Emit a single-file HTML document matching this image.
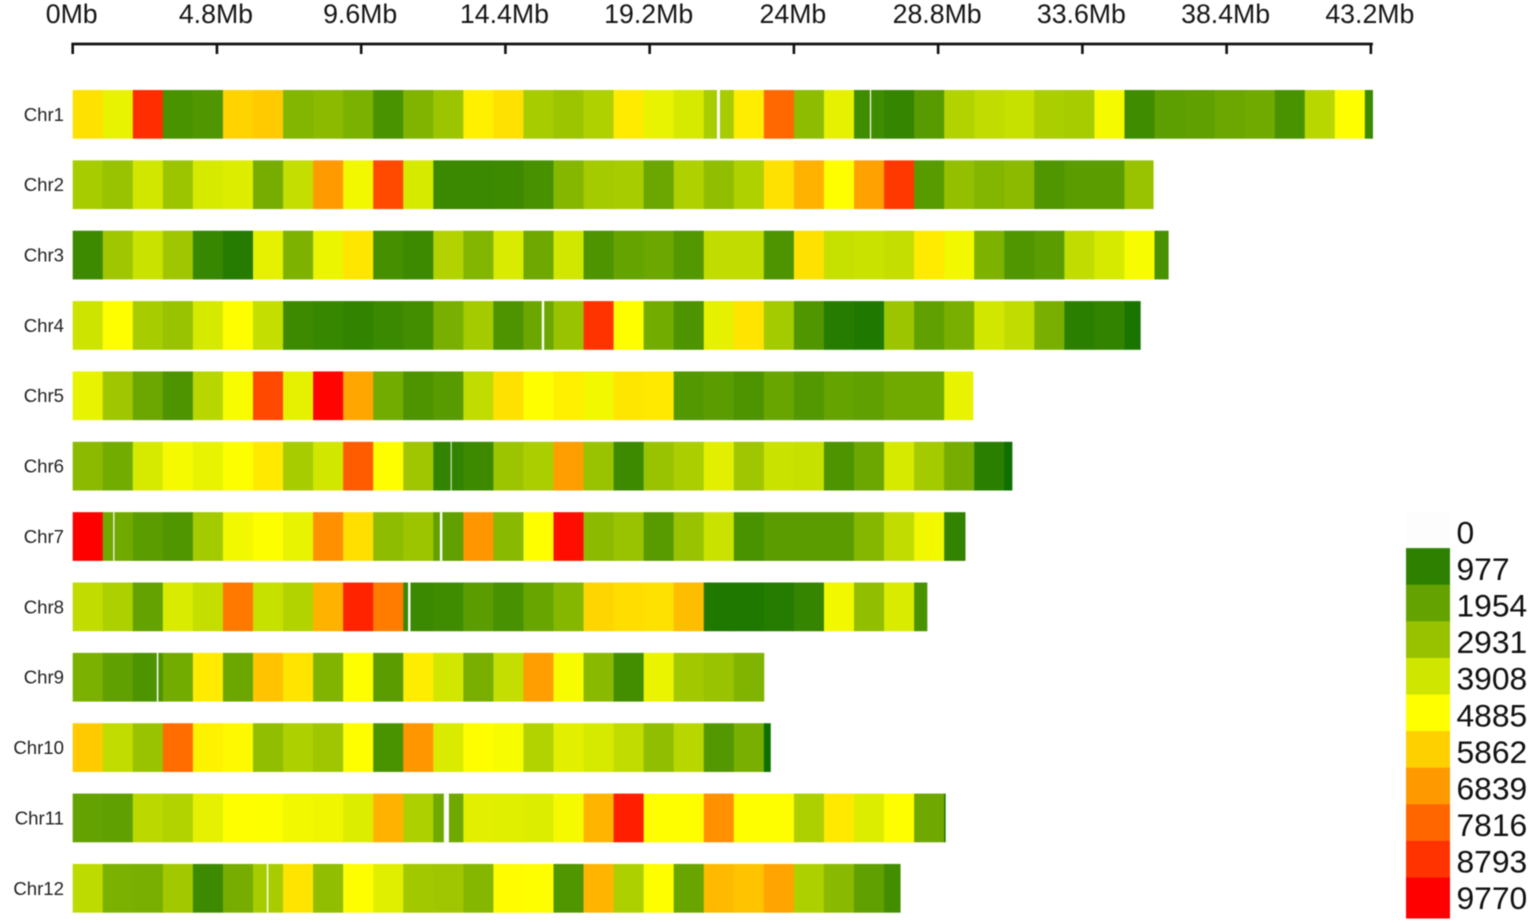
<!DOCTYPE html>
<html lang="en">
<head>
<meta charset="utf-8">
<title>Chromosome density heatmap</title>
<style>
html,body{margin:0;padding:0;background:#fff;width:1535px;height:923px;overflow:hidden}
svg{display:block;filter:blur(0.4px)}
text{font-family:"Liberation Sans",Arial,sans-serif}
</style>
</head>
<body>
<svg id="chart" width="1535" height="923" viewBox="0 0 1535 923" xmlns="http://www.w3.org/2000/svg">
<rect width="1535" height="923" fill="#fff"/>
<g id="axis"></g>
<g id="rows"></g>
<g id="legend"></g>
</svg>
<script>
const chromosomes = ["Chr1","Chr2","Chr3","Chr4","Chr5","Chr6","Chr7","Chr8","Chr9","Chr10","Chr11","Chr12"];
const lengthsMb = [43.27,35.97,36.47,35.54,29.97,31.27,29.71,28.44,23.01,23.23,29.05,27.55];
const axisTicksMb = [0,4.8,9.6,14.4,19.2,24,28.8,33.6,38.4,43.2];
const legendValues = [0,977,1954,2931,3908,4885,5862,6839,7816,8793,9770];

const chr1Values = [5500,4400,8900,1500,1600,5800,5950,2550,2700,2400,1500,2500,3000,5200,5500,3200,3000,3350,5300,4400,4050,3200,5250,7800,2750,4350,1300,1100,1750,3400,3650,3750,3250,3200,4700,1300,1850,1900,2100,2200,1500,3500,4900,1200];
const chr2Values = [3200,2950,3950,3000,4050,4200,2300,3700,6800,4600,8350,4050,1200,1200,1250,1450,2600,3150,3200,2100,3350,2800,3350,5500,6400,4900,6700,8700,1750,2850,2550,2700,1600,1800,1800,2950];
const chr3Values = [1250,3050,3800,3050,1150,900,4350,2450,4500,5400,1400,1250,3400,2550,4100,2150,3950,1550,2000,2100,1650,3650,3650,1550,5500,3750,3800,3700,5300,4600,2450,1600,1800,3650,4050,4750,1450];
const chr4Values = [3850,4900,3200,2950,4050,4900,3700,1250,1150,1050,1200,1350,2350,3150,1550,2100,2950,8800,4900,2250,1550,4350,5450,3150,1600,900,850,3000,1900,2350,3950,3650,2350,950,1050,800];
const chr5Values = [4400,3050,2100,1550,3500,4750,8400,4350,9700,6600,2250,1550,1750,3650,5500,4900,5200,4600,5400,5350,1650,1800,1550,2050,1650,2000,1900,2200,2200,4400];
const chr6Values = [2700,2250,4050,4700,4400,4850,5350,3200,3950,8000,4900,3050,1050,1250,3000,3250,6750,2950,1250,2950,3250,4300,3050,3800,3750,1550,2100,4050,3150,2300,950,700];
const chr7Values = [9770,2200,1800,1600,3150,4600,4850,4400,7000,5550,2750,3000,1900,6900,2650,4900,9500,2700,2950,1750,2950,3800,1500,1800,1800,1800,2600,3650,4600,1050];
const chr8Values = [3650,3300,1950,4100,3700,7450,3750,3400,6400,9100,7400,1200,1300,1800,1450,2050,2600,5750,5600,5500,6200,850,850,900,1100,4600,2800,4100,1500];
const chr9Values = [2400,1900,1550,2250,5300,2100,6100,5450,2500,4900,1800,5250,3950,2350,3700,6750,4750,2650,1350,4450,3100,2950,2500];
const chr10Values = [5950,3650,2950,7700,5150,5000,2800,3300,3050,4900,1500,6900,4100,4900,4750,3400,4300,4050,3650,2800,3500,1650,2350,700];
const chr11Values = [1950,1900,3550,3400,4350,4900,4850,4600,4550,4200,6400,3300,2150,4300,4250,4200,4700,6350,9200,4900,4900,7000,4900,4900,3300,5350,4200,4900,2150,800];
const chr12Values = [3600,2400,2350,3100,1250,2300,3200,5450,2800,4900,4250,3100,3050,2600,4950,4900,1600,6350,3300,4900,2050,6250,6100,6650,3300,2650,1900,1350];
const rowValues = [chr1Values,chr2Values,chr3Values,chr4Values,chr5Values,chr6Values,chr7Values,chr8Values,chr9Values,chr10Values,chr11Values,chr12Values];

/* zero-density gaps: chromosome index, start (Mb), span (Mb) */
const gapChromosome = [0,0,3,5,6,6,7,8,10,11];
const gapStartMb = [21.44,26.53,15.61,12.58,1.35,12.22,11.16,2.8,12.35,6.46];
const gapSpanMb = [0.1,0.04,0.08,0.03,0.04,0.08,0.08,0.05,0.17,0.05];

const colorDomain = [700,977,1954,2931,3908,4885,5862,6839,7816,8793,9770];
const colorRange = ["#0e6f00","#2e8100","#63a200","#98c200","#cfe600","#ffff00","#ffd000","#ff9900","#ff6600","#ff3300","#ff0000"];

const NS = "http://www.w3.org/2000/svg";
const xOrigin = 72.7, pxPerMb = 30.05;
const rowTop = 90, rowPitch = 70.36, rowHeight = 48.7;
const xScale = mb => xOrigin + mb * pxPerMb;
const yScale = i => rowTop + i * rowPitch;

function hexToRgb(h){return [parseInt(h.slice(1,3),16),parseInt(h.slice(3,5),16),parseInt(h.slice(5,7),16)];}
function densityColor(v){
  if(v<=0) return "#fdfdfd";
  if(v<=colorDomain[0]) return colorRange[0];
  for(let i=1;i<colorDomain.length;i++){
    if(v<=colorDomain[i]){
      const t=(v-colorDomain[i-1])/(colorDomain[i]-colorDomain[i-1]);
      const a=hexToRgb(colorRange[i-1]),b=hexToRgb(colorRange[i]);
      return "rgb("+a.map((c,k)=>Math.round(c+(b[k]-c)*t)).join(",")+")";
    }
  }
  return colorRange[colorRange.length-1];
}
function make(tag,attrs,parent,txt){
  const el=document.createElementNS(NS,tag);
  for(const k in attrs) el.setAttribute(k,attrs[k]);
  if(txt!==undefined) el.textContent=txt;
  parent.appendChild(el);
  return el;
}

/* axis */
const axisG=document.getElementById("axis");
const axisLine=make("line",{x1:xScale(axisTicksMb[0])-1.3,x2:xScale(axisTicksMb[axisTicksMb.length-1])+2,y1:44,y2:44,stroke:"#111","stroke-width":2.8},axisG);


axisTicksMb.forEach(mb=>{
  const tick=make("line",{x1:xScale(mb),x2:xScale(mb),y1:44,y2:54,stroke:"#111","stroke-width":2.6},axisG);
  
  
  const label=make("text",{x:xScale(mb)-1,y:23,"text-anchor":"middle","font-size":26.7,fill:"#151515"},axisG,mb+"Mb");
  
  
});

/* rows */
const rowsG=document.getElementById("rows");
chromosomes.forEach((name,i)=>{
  const y=yScale(i);
  const row=make("g",{},rowsG);
  
  
  const label=make("text",{x:64,y:y+30.8,"text-anchor":"end","font-size":18.6,fill:"#222"},row,name);
  
  
  rowValues[i].forEach((v,b)=>{
    const end=Math.min(b+1,lengthsMb[i]);
    const last=end>=lengthsMb[i];
    const cell=make("rect",{x:xScale(b),y:y,width:(end-b)*pxPerMb+(last?0:0.4),height:rowHeight,fill:densityColor(v)},row);
    
    
  });
  gapChromosome.forEach((c,g)=>{
    if(c!==i) return;
    const gap=make("rect",{x:xScale(gapStartMb[g]),y:y,width:gapSpanMb[g]*pxPerMb,height:rowHeight,fill:densityColor(0)},row);
    
    
  });
});

/* legend */
const legendG=document.getElementById("legend");
const legendTop=511.5, legendStep=36.6, legendX=1406, legendW=44;
legendValues.forEach((v,i)=>{
  const sy=legendTop+i*legendStep;
  const h=(i===legendValues.length-1)?41:legendStep+0.3;
  const sw=make("rect",{x:legendX,y:sy,width:legendW,height:h,fill:densityColor(v)},legendG);
  
  
  const t=make("text",{x:1456.5,y:543.5+i*36.55,"font-size":31.8,fill:"#111"},legendG,String(v));
  
  
});
</script>
</body>
</html>
